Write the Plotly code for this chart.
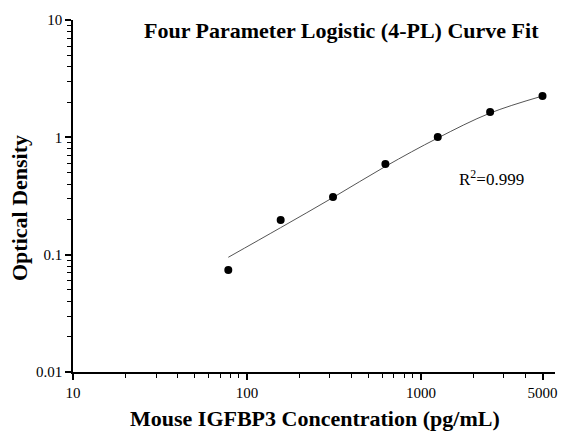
import plotly.graph_objects as go
import numpy as np

# Data
concentration = [78.125, 156.25, 312.5, 625, 1250, 2500, 5000]
od = [0.074, 0.197, 0.310, 0.592, 1.006, 1.64, 2.25]

# Fitted curve values read at the same concentrations
curve_od = [0.095, 0.170, 0.307, 0.565, 0.987, 1.61, 2.25]

x_tickvals = [10, 100, 1000, 5000]
x_ticktext = ["10", "100", "1000", "5000"]
y_tickvals = [0.01, 0.1, 1, 10]
y_ticktext = ["0.01", "0.1", "1", "10"]

x_minor = [v * m for v in [10, 100, 1000] for m in range(2, 10)]
y_minor = [v * m for v in [0.01, 0.1, 1] for m in range(2, 10)]

FONT = "Liberation Serif, Times New Roman, serif"

fig = go.Figure()
fig.add_trace(go.Scatter(x=concentration, y=curve_od, mode="lines",
                         line=dict(color="#555555", width=1, shape="spline", smoothing=1.0),
                         hoverinfo="skip", showlegend=False))
fig.add_trace(go.Scatter(x=concentration, y=od, mode="markers",
                         marker=dict(color="black", size=8),
                         cliponaxis=False, showlegend=False))

fig.update_layout(
    width=562, height=432,
    margin=dict(l=73, r=7, t=20, b=60, autoexpand=False),
    plot_bgcolor="white", paper_bgcolor="white",
    font=dict(family=FONT, color="black", size=15),
    xaxis=dict(type="log", range=[1, np.log10(5900)], automargin=False,
               tickvals=x_tickvals, ticktext=x_ticktext,
               ticks="outside", ticklen=6, tickwidth=1.5, tickcolor="black",
               showline=True, linecolor="black", linewidth=1.5,
               showgrid=False, zeroline=False,
               minor=dict(tickvals=x_minor, ticks="outside", ticklen=4,
                          tickwidth=1, tickcolor="black", showgrid=False),
               tickfont=dict(size=15)),
    yaxis=dict(type="log", range=[-2, 1], automargin=False,
               tickvals=y_tickvals, ticktext=y_ticktext,
               ticks="outside", ticklen=6, tickwidth=1.5, tickcolor="black",
               showline=True, linecolor="black", linewidth=1.5,
               showgrid=False, zeroline=False,
               minor=dict(tickvals=y_minor, ticks="outside", ticklen=4,
                          tickwidth=1, tickcolor="black", showgrid=False),
               tickfont=dict(size=15)),
)

fig.add_annotation(text="<b>Four Parameter Logistic (4-PL) Curve Fit</b>",
                   xref="paper", yref="paper", x=(341 - 73) / 482, y=(372 - 30) / 352,
                   xanchor="center", yanchor="middle", showarrow=False,
                   font=dict(size=22, family=FONT))
fig.add_annotation(text="<b>Mouse IGFBP3 Concentration (pg/mL)</b>",
                   xref="paper", yref="paper", x=(315 - 73) / 482, y=(372 - 418) / 352,
                   xanchor="center", yanchor="middle", showarrow=False,
                   font=dict(size=22, family=FONT))
fig.add_annotation(text="<b>Optical Density</b>", textangle=-90,
                   xref="paper", yref="paper", x=(19 - 73) / 482, y=(372 - 208) / 352,
                   xanchor="center", yanchor="middle", showarrow=False,
                   font=dict(size=22, family=FONT))
fig.add_annotation(text="R<sup>2</sup>=0.999",
                   xref="paper", yref="paper", x=(457 - 73) / 482, y=(372 - 178) / 352,
                   xanchor="left", yanchor="middle",
                   showarrow=False, font=dict(size=17, family=FONT))

fig.write_html("out.html", config={"displayModeBar": False},
               post_script="document.body.style.margin='0';document.body.style.padding='0';")
